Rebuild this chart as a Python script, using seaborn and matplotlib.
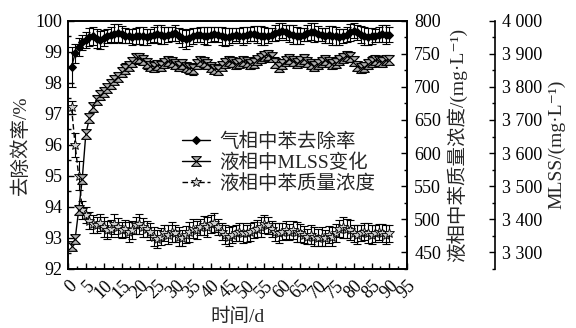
import numpy as np
import matplotlib
matplotlib.use("Agg")
import matplotlib.pyplot as plt
import seaborn as sns
from matplotlib.ticker import MultipleLocator, FuncFormatter

# 时间 (d)
days = list(range(1, 91))

# 气相中苯去除率 (%)
removal = [98.50, 98.95, 99.15, 99.30, 99.38, 99.47, 99.50, 99.42, 99.38, 99.44,
           99.50, 99.55, 99.58, 99.60, 99.56, 99.52, 99.50, 99.48, 99.50, 99.52,
           99.50, 99.47, 99.50, 99.55, 99.57, 99.55, 99.52, 99.55, 99.58, 99.60,
           99.52, 99.44, 99.40, 99.45, 99.50, 99.53, 99.55, 99.52, 99.50, 99.55,
           99.57, 99.55, 99.50, 99.47, 99.48, 99.52, 99.55, 99.52, 99.50, 99.53,
           99.56, 99.58, 99.55, 99.52, 99.50, 99.52, 99.55, 99.60, 99.65, 99.68,
           99.62, 99.58, 99.55, 99.52, 99.50, 99.55, 99.60, 99.65, 99.62, 99.58,
           99.55, 99.52, 99.55, 99.52, 99.50, 99.48, 99.50, 99.55, 99.62, 99.68,
           99.62, 99.55, 99.50, 99.48, 99.50, 99.52, 99.55, 99.58, 99.55, 99.55]
removal_err = [0.65, 0.30, 0.28, 0.25, 0.25, 0.28, 0.30, 0.30, 0.28, 0.25,
               0.22, 0.25, 0.30, 0.30, 0.28, 0.25, 0.22, 0.25, 0.25, 0.28,
               0.30, 0.25, 0.22, 0.25, 0.28, 0.30, 0.28, 0.25, 0.22, 0.25,
               0.25, 0.28, 0.30, 0.28, 0.25, 0.22, 0.25, 0.28, 0.30, 0.25,
               0.22, 0.25, 0.28, 0.30, 0.28, 0.25, 0.22, 0.25, 0.28, 0.25,
               0.22, 0.25, 0.28, 0.30, 0.28, 0.25, 0.22, 0.25, 0.28, 0.25,
               0.25, 0.28, 0.30, 0.28, 0.25, 0.22, 0.25, 0.28, 0.30, 0.25,
               0.22, 0.25, 0.28, 0.30, 0.28, 0.25, 0.22, 0.25, 0.28, 0.25,
               0.25, 0.28, 0.30, 0.28, 0.25, 0.22, 0.25, 0.28, 0.30, 0.25]

# 液相中MLSS (mg/L)
mlss = [3320, 3340, 3428, 3522, 3658, 3705, 3738, 3761, 3775, 3786,
        3797, 3808, 3822, 3831, 3845, 3855, 3864, 3876, 3886, 3888,
        3880, 3871, 3864, 3861, 3866, 3864, 3871, 3878, 3874, 3869,
        3864, 3869, 3861, 3856, 3855, 3869, 3878, 3874, 3869, 3861,
        3855, 3852, 3864, 3873, 3878, 3874, 3869, 3872, 3878, 3874,
        3869, 3873, 3880, 3888, 3892, 3897, 3889, 3873, 3859, 3869,
        3878, 3883, 3878, 3873, 3878, 3883, 3876, 3869, 3864, 3869,
        3876, 3880, 3874, 3869, 3873, 3880, 3888, 3892, 3889, 3878,
        3864, 3858, 3859, 3869, 3876, 3880, 3878, 3876, 3880, 3882]
mlss_err = [10, 12, 14, 14, 13, 12, 12, 14, 15, 14,
            13, 15, 14, 13, 15, 16, 14, 15, 16, 14,
            15, 16, 14, 15, 16, 15, 14, 16, 15, 14,
            15, 16, 14, 16, 18, 15, 14, 16, 15, 14,
            15, 16, 14, 15, 16, 15, 14, 16, 15, 14,
            15, 16, 14, 15, 16, 15, 14, 16, 15, 14,
            15, 16, 14, 15, 16, 15, 14, 16, 15, 14,
            15, 16, 14, 15, 16, 15, 14, 16, 15, 14,
            15, 16, 14, 15, 16, 15, 14, 16, 15, 14]

# 液相中苯质量浓度 (mg/L)
benzene = [669, 612, 566, 514, 507, 498, 493, 491, 495, 488,
           484, 486, 493, 488, 484, 486, 481, 484, 491, 493,
           488, 486, 481, 474, 470, 474, 479, 477, 481, 479,
           474, 472, 477, 481, 486, 484, 488, 491, 488, 493,
           495, 488, 481, 477, 474, 477, 479, 481, 479, 479,
           481, 484, 486, 488, 493, 491, 486, 481, 479, 481,
           484, 481, 484, 481, 479, 477, 474, 477, 474, 472,
           474, 472, 477, 474, 479, 486, 488, 486, 484, 479,
           477, 479, 481, 479, 477, 479, 481, 479, 477, 479]
benzene_err = [10, 18, 22, 14, 12, 13, 14, 12, 13, 15,
               14, 13, 15, 14, 12, 13, 15, 14, 13, 15,
               14, 12, 13, 15, 14, 13, 12, 14, 15, 13,
               14, 12, 13, 15, 14, 13, 12, 14, 15, 13,
               14, 12, 13, 15, 14, 13, 12, 14, 15, 13,
               14, 12, 13, 15, 14, 13, 12, 14, 15, 13,
               14, 12, 13, 15, 14, 13, 12, 14, 15, 13,
               14, 12, 13, 15, 14, 13, 16, 14, 15, 13,
               14, 12, 13, 15, 14, 13, 12, 14, 15, 13]

legend_labels = ['气相中苯去除率', '液相中MLSS变化', '液相中苯质量浓度']

sns.set_theme(style='ticks')
plt.rcParams['font.family'] = ['Liberation Serif', 'Noto Sans CJK SC', 'DejaVu Serif']
plt.rcParams['axes.unicode_minus'] = False

fig = plt.figure(figsize=(5.76, 3.28), dpi=100)
ax = fig.add_axes([0.118, 0.18, 0.589, 0.757])
ax2 = ax.twinx()
ax3 = ax.twinx()
ax3.spines['right'].set_position(('axes', 1.26))
for s in ['top', 'left', 'bottom']:
    ax3.spines[s].set_visible(False)
for a in (ax, ax2, ax3):
    for s in a.spines.values():
        s.set_color('black')
        s.set_linewidth(1.2)

hourglass = [(-1, 1), (1, 1), (-1, -1), (1, -1), (-1, 1)]
eb = dict(fmt='none', ecolor='black', elinewidth=0.8, capsize=3, capthick=0.8)

ax.errorbar(days, removal, yerr=removal_err, **eb)
sns.lineplot(x=days, y=removal, ax=ax, color='black', lw=1, marker='D',
             markersize=4, markeredgecolor='black', markerfacecolor='black',
             legend=False)
l1 = ax.get_lines()[-1]

ax3.errorbar(days, mlss, yerr=mlss_err, **eb)
sns.lineplot(x=days, y=mlss, ax=ax3, color='black', lw=1, marker=hourglass,
             markersize=7, markeredgecolor='black', markerfacecolor='#b0b0b0',
             markeredgewidth=0.8, legend=False)
l2 = ax3.get_lines()[-1]

ax2.errorbar(days, benzene, yerr=benzene_err, **eb)
sns.lineplot(x=days, y=benzene, ax=ax2, color='black', lw=1, marker='*',
             markersize=7, markeredgecolor='black', markerfacecolor='#d0d0d0',
             markeredgewidth=0.6, legend=False)
l3 = ax2.get_lines()[-1]
l3.set_linestyle((0, (4, 2)))

ax.set_xlim(0, 95)
ax.set_ylim(92, 100)
ax2.set_ylim(425, 800)
ax3.set_ylim(3250, 4000)

ax.xaxis.set_major_locator(MultipleLocator(5))
ax.xaxis.set_minor_locator(MultipleLocator(2.5))
ax.yaxis.set_major_locator(MultipleLocator(1))
ax.yaxis.set_minor_locator(MultipleLocator(0.5))
ax2.yaxis.set_major_locator(MultipleLocator(50))
ax2.yaxis.set_minor_locator(MultipleLocator(25))
ax3.yaxis.set_major_locator(MultipleLocator(100))
ax3.yaxis.set_minor_locator(MultipleLocator(50))
ax3.yaxis.set_major_formatter(FuncFormatter(lambda v, p: f'{int(v):,}'.replace(',', ' ')))

ax.tick_params(axis='both', which='both', direction='in', colors='black', labelsize=13)
ax.tick_params(axis='x', which='major', length=4, width=1, pad=6)
ax.tick_params(axis='x', which='minor', length=2.5, width=1)
ax.tick_params(axis='y', which='major', length=4, width=1, pad=4)
ax.tick_params(axis='y', which='minor', length=2.5, width=1)
ax.tick_params(top=False, right=False)
for a in (ax2, ax3):
    a.tick_params(axis='y', which='both', direction='in', colors='black', labelsize=13)
    a.tick_params(axis='y', which='major', length=4, width=1, pad=5)
    a.tick_params(axis='y', which='minor', length=2.5, width=1)
plt.setp(ax.get_xticklabels(), rotation=45, ha='right', va='top', rotation_mode='anchor')

ax.set_xlabel('时间/d', fontsize=14, labelpad=4)
ax.set_ylabel('去除效率/%', fontsize=14, labelpad=4)
ax2.set_ylabel('液相中苯质量浓度/(mg·L⁻¹)', fontsize=14, labelpad=4)
ax3.set_ylabel('MLSS/(mg·L⁻¹)', fontsize=14, labelpad=4)
for a in (ax, ax2, ax3):
    a.grid(False)

ax3.legend([l1, l2, l3], legend_labels, loc='upper left',
           bbox_to_anchor=(0.335, 0.55), frameon=False, fontsize=14,
           handlelength=1.45, handletextpad=0.5, labelspacing=0.1,
           borderpad=0, borderaxespad=0)

fig.savefig('out.png', dpi=100)
